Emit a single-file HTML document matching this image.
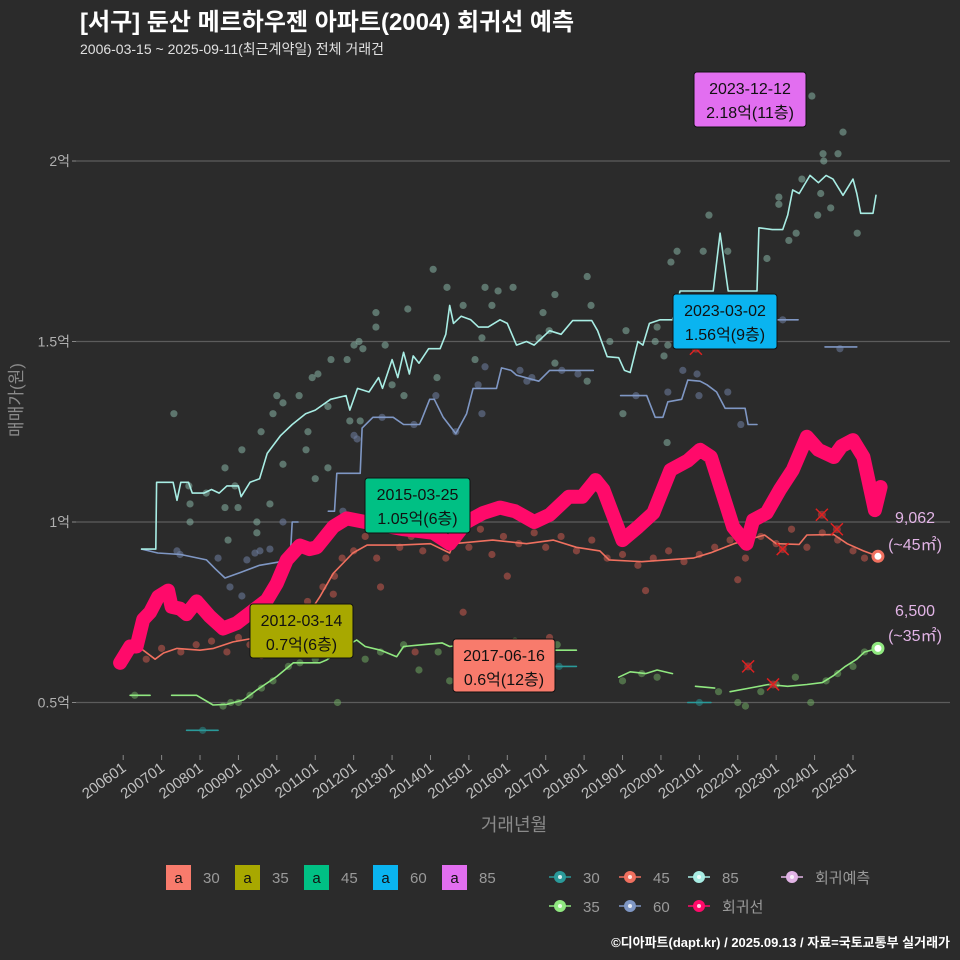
<!DOCTYPE html>
<html><head><meta charset="utf-8">
<style>
html,body{margin:0;padding:0;background:#2b2b2b;}
svg{display:block;font-family:"Liberation Sans","Noto Sans CJK KR",sans-serif;}
</style></head>
<body>
<svg id="chart" width="960" height="960" viewBox="0 0 960 960" xmlns="http://www.w3.org/2000/svg">
<rect width="960" height="960" fill="#2b2b2b"/>
<text x="80" y="30" fill="#ffffff" font-size="24" font-weight="bold">[서구] 둔산 메르하우젠 아파트(2004) 회귀선 예측</text>
<text x="80" y="54" fill="#e0e0e0" font-size="14">2006-03-15 ~ 2025-09-11(최근계약일) 전체 거래건</text>
<g id="grid"></g>
<g id="yaxis"></g>
<g id="xaxis"></g>
<text x="22" y="400" fill="#8a8a8a" font-size="17" text-anchor="middle" transform="rotate(-90 22 400)">매매가(원)</text>
<text x="514" y="831" fill="#8a8a8a" font-size="18" text-anchor="middle">거래년월</text>
<g id="dots"></g>
<g id="lines"></g>
<g id="marks"></g>
<g id="annots"></g>
<g id="legend"></g>
<text x="950" y="947" fill="#ffffff" font-size="13" font-weight="bold" text-anchor="end">©디아파트(dapt.kr) / 2025.09.13 / 자료=국토교통부 실거래가</text>
</svg>
<script>
// ---- data ----
const yTicks = [0.5, 1, 1.5, 2];
const yTickLabels = ["0.5억", "1억", "1.5억", "2억"];
const xTickYears = [2006,2007,2008,2009,2010,2011,2012,2013,2014,2015,2016,2017,2018,2019,2020,2021,2022,2023,2024,2025];
const xTickLabels = ["200601","200701","200801","200901","201001","201101","201201","201301","201401","201501","201601","201701","201801","201901","202001","202101","202201","202301","202401","202501"];

const line85 = [[2006.48,0.925],[2006.85,0.925],[2006.87,1.11],[2007.3,1.11],[2007.4,1.06],[2007.5,1.11],[2007.7,1.11],[2007.8,1.08],[2008.1,1.08],[2008.3,1.09],[2008.5,1.08],[2008.7,1.1],[2009.0,1.1],[2009.07,1.07],[2009.3,1.11],[2009.55,1.12],[2009.75,1.19],[2010.1,1.24],[2010.4,1.27],[2010.75,1.3],[2011.0,1.31],[2011.4,1.34],[2011.8,1.35],[2011.9,1.31],[2012.1,1.37],[2012.4,1.36],[2012.65,1.4],[2012.75,1.37],[2013.0,1.45],[2013.15,1.4],[2013.3,1.47],[2013.45,1.41],[2013.55,1.46],[2013.7,1.44],[2013.95,1.48],[2014.25,1.48],[2014.4,1.52],[2014.5,1.6],[2014.6,1.55],[2014.8,1.57],[2015.05,1.56],[2015.25,1.54],[2015.5,1.54],[2015.81,1.56],[2016.0,1.55],[2016.24,1.49],[2016.5,1.5],[2016.7,1.49],[2017.1,1.53],[2017.4,1.52],[2017.7,1.558],[2018.2,1.558],[2018.35,1.53],[2018.6,1.458],[2018.9,1.455],[2019.05,1.42],[2019.2,1.414],[2019.4,1.5],[2019.53,1.49],[2019.7,1.55],[2019.98,1.56],[2020.3,1.56],[2020.5,1.64],[2021.0,1.64],[2021.36,1.64],[2021.54,1.80],[2021.75,1.64],[2022.5,1.64],[2022.55,1.815],[2022.9,1.81],[2023.17,1.81],[2023.3,1.85],[2023.43,1.92],[2023.6,1.91],[2023.88,1.96],[2024.1,1.94],[2024.3,1.96],[2024.48,1.95],[2024.74,1.905],[2025.0,1.95],[2025.1,1.91],[2025.2,1.855],[2025.52,1.855],[2025.6,1.905]];

const line60a = [[2006.48,0.925],[2006.9,0.914],[2007.5,0.91],[2008.17,0.895],[2008.4,0.87],[2008.65,0.845],[2009.05,0.86],[2009.55,0.88],[2010.1,0.89],[2010.35,0.905],[2010.4,1.0],[2010.55,1.0]];
const line60b = [[2011.34,1.03],[2011.5,1.03],[2011.56,1.135],[2012.17,1.135],[2012.22,1.26],[2012.5,1.29],[2013.03,1.29],[2013.3,1.27],[2013.72,1.27],[2013.98,1.34],[2014.1,1.34],[2014.33,1.29],[2014.66,1.245],[2014.94,1.3],[2015.11,1.37],[2015.72,1.37],[2015.85,1.427],[2016.1,1.42],[2016.24,1.407],[2016.82,1.39],[2017.1,1.42],[2018.24,1.42]];
const line60c = [[2018.95,1.35],[2019.63,1.35],[2019.85,1.29],[2020.05,1.29],[2020.18,1.333],[2020.54,1.34],[2020.7,1.393],[2021.02,1.39],[2021.2,1.38],[2021.45,1.36],[2021.67,1.315],[2022.19,1.315],[2022.27,1.27],[2022.5,1.27]];
const line60d = [[2022.92,1.56],[2023.57,1.56]];
const line60e = [[2024.27,1.485],[2025.1,1.485]];

const line45 = [[2006.18,0.665],[2006.52,0.645],[2006.83,0.62],[2007.05,0.637],[2007.4,0.65],[2008.0,0.645],[2008.35,0.65],[2008.86,0.668],[2009.49,0.68],[2010.16,0.70],[2010.79,0.74],[2011.12,0.793],[2011.47,0.858],[2011.98,0.914],[2012.35,0.936],[2013.2,0.936],[2014.0,0.94],[2014.5,0.914],[2014.6,0.94],[2015.62,0.95],[2016.5,0.94],[2017.2,0.95],[2017.8,0.93],[2018.41,0.92],[2018.65,0.895],[2019.5,0.89],[2020.84,0.9],[2021.3,0.915],[2021.9,0.94],[2022.7,0.964],[2023.0,0.94],[2023.6,0.938],[2023.8,0.964],[2024.5,0.965],[2024.85,0.94],[2025.27,0.92],[2025.65,0.905]];

const line35a = [[2006.18,0.52],[2006.7,0.52]];
const line35b = [[2007.26,0.52],[2007.91,0.52],[2008.34,0.493],[2008.7,0.495],[2009.13,0.507],[2009.48,0.535],[2010.0,0.572],[2010.43,0.61],[2011.12,0.61],[2011.3,0.618],[2011.64,0.645],[2012.08,0.673],[2012.3,0.655],[2012.7,0.645],[2013.12,0.627],[2013.3,0.655],[2013.8,0.66],[2014.3,0.665],[2014.5,0.655],[2015.2,0.665],[2015.8,0.66],[2016.4,0.65],[2017.0,0.645],[2017.8,0.645]];
const line35c = [[2018.9,0.57],[2019.2,0.585],[2019.6,0.58],[2019.9,0.59],[2020.3,0.58]];
const line35d = [[2020.9,0.545],[2021.4,0.54]];
const line35e = [[2021.8,0.53],[2022.3,0.54],[2022.8,0.55],[2023.3,0.545],[2023.8,0.55],[2024.2,0.555],[2024.5,0.575],[2024.8,0.6],[2025.1,0.62],[2025.3,0.64],[2025.65,0.65]];

const line30a = [[2007.65,0.423],[2008.47,0.423]];
const line30b = [[2016.9,0.6],[2017.8,0.6]];
const line30c = [[2020.7,0.5],[2021.3,0.5]];

const regression = [[2005.92,0.61],[2006.18,0.655],[2006.35,0.655],[2006.52,0.73],[2006.7,0.75],[2006.91,0.793],[2007.17,0.81],[2007.26,0.765],[2007.48,0.76],[2007.65,0.745],[2007.91,0.78],[2008.26,0.738],[2008.6,0.705],[2008.96,0.72],[2009.3,0.748],[2009.74,0.784],[2010.0,0.83],[2010.26,0.895],[2010.6,0.935],[2010.85,0.925],[2011.04,0.93],[2011.47,0.987],[2011.82,1.01],[2012.3,1.0],[2012.8,0.99],[2013.3,0.98],[2013.7,0.975],[2014.07,0.97],[2014.5,0.94],[2014.94,1.0],[2015.37,1.025],[2015.81,1.04],[2016.2,1.03],[2016.7,1.0],[2017.1,1.02],[2017.6,1.07],[2017.95,1.07],[2018.3,1.116],[2018.5,1.09],[2019.0,0.95],[2019.4,0.986],[2019.8,1.025],[2020.25,1.144],[2020.7,1.17],[2021.02,1.2],[2021.3,1.18],[2021.88,0.986],[2022.23,0.94],[2022.4,1.005],[2022.75,1.025],[2023.1,1.09],[2023.43,1.144],[2023.8,1.236],[2024.1,1.2],[2024.5,1.18],[2024.7,1.21],[2025.0,1.227],[2025.27,1.18],[2025.57,1.033],[2025.72,1.097]];

const dots85 = [[2007.32,1.30],[2014.07,1.70],[2014.43,1.65],[2015.42,1.65],[2015.76,1.64],[2016.15,1.65],[2012.58,1.58],[2013.41,1.59],[2014.85,1.60],[2015.6,1.60],[2012.58,1.54],[2015.34,1.51],[2012.01,1.49],[2012.14,1.50],[2012.82,1.49],[2012.24,1.48],[2011.41,1.45],[2011.83,1.45],[2015.16,1.45],[2010.92,1.40],[2011.07,1.41],[2014.17,1.40],[2013.0,1.38],[2010.0,1.35],[2010.16,1.33],[2010.58,1.35],[2013.31,1.35],[2009.9,1.30],[2011.33,1.32],[2011.9,1.28],[2012.17,1.28],[2009.59,1.25],[2010.81,1.25],[2009.09,1.20],[2010.76,1.20],[2010.16,1.16],[2011.33,1.15],[2008.65,1.15],[2011.0,1.12],[2008.91,1.10],[2008.16,1.08],[2007.71,1.10],[2009.82,1.05],[2007.74,1.05],[2008.65,1.04],[2008.99,1.04],[2009.48,1.00],[2007.74,1.00],[2009.48,0.97],[2008.73,0.95],[2023.93,2.18],[2024.74,2.08],[2024.22,2.02],[2024.24,2.00],[2024.61,2.02],[2023.67,1.95],[2023.07,1.90],[2023.07,1.88],[2024.16,1.91],[2024.42,1.87],[2024.08,1.85],[2021.25,1.85],[2023.52,1.80],[2023.33,1.78],[2025.11,1.80],[2020.42,1.75],[2021.1,1.75],[2021.74,1.75],[2022.76,1.73],[2020.26,1.72],[2018.08,1.68],[2017.24,1.63],[2016.93,1.58],[2018.18,1.60],[2019.09,1.53],[2017.09,1.53],[2016.83,1.51],[2018.67,1.50],[2019.9,1.54],[2019.85,1.50],[2020.18,1.49],[2020.08,1.46],[2017.24,1.44],[2018.08,1.39],[2019.01,1.30],[2020.16,1.22]];
const dots60 = [[2007.4,0.92],[2007.48,0.91],[2008.47,0.90],[2009.22,0.895],[2009.43,0.914],[2009.56,0.92],[2009.82,0.925],[2010.16,1.0],[2011.72,1.03],[2012.01,1.24],[2012.09,1.23],[2012.74,1.29],[2013.57,1.27],[2014.14,1.35],[2014.66,1.25],[2015.24,1.38],[2015.42,1.43],[2015.34,1.30],[2016.33,1.42],[2016.51,1.39],[2016.64,1.40],[2017.42,1.42],[2017.84,1.41],[2019.35,1.35],[2020.18,1.36],[2020.57,1.42],[2020.94,1.41],[2020.99,1.35],[2021.74,1.36],[2022.08,1.27],[2023.17,1.56],[2024.66,1.48],[2008.78,0.82],[2009.09,0.795],[2009.74,0.80]];
const dots45 = [[2006.3,0.66],[2006.6,0.62],[2007.0,0.65],[2007.5,0.64],[2007.9,0.66],[2008.3,0.67],[2008.7,0.64],[2009.0,0.68],[2009.3,0.66],[2009.6,0.63],[2009.9,0.69],[2010.2,0.70],[2010.5,0.74],[2010.8,0.78],[2011.0,0.72],[2011.2,0.82],[2011.5,0.85],[2011.47,0.80],[2011.7,0.90],[2012.0,0.92],[2012.3,0.96],[2012.6,0.90],[2012.9,0.98],[2013.2,0.93],[2013.5,0.96],[2013.8,0.92],[2014.1,0.97],[2014.4,0.90],[2014.7,0.95],[2015.0,0.93],[2015.3,0.98],[2015.6,0.91],[2015.9,0.96],[2016.3,0.94],[2016.7,0.97],[2017.0,0.93],[2017.4,0.96],[2017.8,0.92],[2018.2,0.95],[2018.6,0.90],[2019.0,0.91],[2019.4,0.88],[2019.8,0.90],[2020.2,0.92],[2020.6,0.89],[2021.0,0.91],[2021.4,0.93],[2021.8,0.95],[2022.2,0.90],[2022.6,0.96],[2023.0,0.94],[2023.4,0.98],[2023.8,0.93],[2024.2,0.97],[2024.6,0.95],[2025.0,0.92],[2025.3,0.90],[2014.85,0.75],[2017.1,0.68],[2013.6,0.64],[2012.7,0.82],[2016.0,0.85],[2019.6,0.81],[2022.0,0.84]];
const dots35 = [[2006.3,0.52],[2008.6,0.49],[2008.8,0.50],[2009.0,0.50],[2009.3,0.52],[2009.6,0.54],[2009.9,0.56],[2010.3,0.60],[2010.6,0.61],[2011.0,0.62],[2011.5,0.66],[2011.8,0.68],[2011.58,0.50],[2012.3,0.62],[2012.7,0.64],[2013.3,0.66],[2013.7,0.59],[2014.2,0.64],[2014.5,0.56],[2015.2,0.66],[2015.7,0.65],[2016.2,0.67],[2016.8,0.64],[2017.3,0.66],[2019.0,0.56],[2019.5,0.58],[2019.9,0.57],[2021.5,0.53],[2022.0,0.50],[2022.2,0.49],[2022.6,0.53],[2023.0,0.55],[2023.5,0.57],[2023.9,0.50],[2024.3,0.56],[2024.6,0.58],[2025.0,0.60],[2025.3,0.64]];
const dots30 = [[2008.07,0.423],[2017.35,0.6],[2021.0,0.5]];
const redCrosses = [[2020.91,1.48],[2023.17,0.925],[2024.19,1.02],[2024.58,0.98],[2022.27,0.60],[2022.92,0.55]];
const endPoints = [[2025.65,0.905],[2025.65,0.65]];

// ---- scales ----
function xs(t){ return 123.2 + (t - 2006) * 38.41; }
function ys(v){ return 522 - (v - 1) * 361; }

const NS = "http://www.w3.org/2000/svg";
function mk(tag, attrs, parent){
  const e = document.createElementNS(NS, tag);
  for (const k in attrs) e.setAttribute(k, attrs[k]);
  parent.appendChild(e);
  return e;
}
const grid = document.getElementById('grid');
const yaxis = document.getElementById('yaxis');
const xaxis = document.getElementById('xaxis');
yTicks.forEach((v, i) => {
  const l = mk('line', {x1: 76, x2: 950, y1: ys(v), y2: ys(v), stroke: '#5c5c5c', 'stroke-width': 1.2}, grid);
  
  
  const tk = mk('line', {x1: 72, x2: 76, y1: ys(v), y2: ys(v), stroke: '#888', 'stroke-width': 1}, yaxis);
  
  
  const t = mk('text', {x: 70, y: ys(v) + 5, fill: '#b0b0b0', 'font-size': 14, 'text-anchor': 'end'}, yaxis);
  t.textContent = yTickLabels[i];
  
  
});
xTickYears.forEach((yr, i) => {
  const x = xs(yr);
  const tk = mk('line', {x1: x, x2: x, y1: 755, y2: 760, stroke: '#888', 'stroke-width': 1}, xaxis);
  
  
  const t = mk('text', {x: x + 4, y: 770, fill: '#c0c0c0', 'font-size': 15, 'text-anchor': 'end', transform: `rotate(-36 ${x + 4} 770)`}, xaxis);
  t.textContent = xTickLabels[i];
  
  
});

const dotsG = document.getElementById('dots');
function drawDots(arr, color, name){
  arr.forEach(p => {
    const c = mk('circle', {cx: xs(p[0]), cy: ys(p[1]), r: 3.6, fill: color, 'fill-opacity': 0.55}, dotsG);
    
    
  });
}
drawDots(dots85, '#86b3a4', 'dot-85');
drawDots(dots60, '#6f7fa3', 'dot-60');
drawDots(dots45, '#c9594e', 'dot-45');
drawDots(dots35, '#6fa862', 'dot-35');
drawDots(dots30, '#2a8c8c', 'dot-30');

const linesG = document.getElementById('lines');
function drawLine(arr, color, w, name){
  const d = arr.map((p, i) => (i ? 'L' : 'M') + xs(p[0]).toFixed(1) + ',' + ys(p[1]).toFixed(1)).join('');
  const path = mk('path', {d: d, fill: 'none', stroke: color, 'stroke-width': w, 'stroke-linejoin': 'round', 'stroke-linecap': 'round'}, linesG);
  
  
}
drawLine(line30a, '#2a9a9a', 1.6, 'line-30');
drawLine(line30b, '#2a9a9a', 1.6, 'line-30');
drawLine(line30c, '#2a9a9a', 1.6, 'line-30');
drawLine(line35a, '#90e880', 1.6, 'line-35');
drawLine(line35b, '#90e880', 1.6, 'line-35');
drawLine(line35c, '#90e880', 1.6, 'line-35');
drawLine(line35d, '#90e880', 1.6, 'line-35');
drawLine(line35e, '#90e880', 1.6, 'line-35');
drawLine(line60a, '#7f97c4', 1.6, 'line-60');
drawLine(line60b, '#7f97c4', 1.6, 'line-60');
drawLine(line60c, '#7f97c4', 1.6, 'line-60');
drawLine(line60d, '#7f97c4', 1.6, 'line-60');
drawLine(line60e, '#7f97c4', 1.6, 'line-60');
drawLine(line85, '#a8ede4', 1.6, 'line-85');
drawLine(line45, '#f0705f', 1.6, 'line-45');
drawLine(regression, '#ff0a6a', 14, 'regression-line');

const marksG = document.getElementById('marks');
redCrosses.forEach(p => {
  const x = xs(p[0]), y = ys(p[1]);
  const g = mk('g', {}, marksG);
  
  
  mk('circle', {cx: x, cy: y, r: 4, fill: '#a04040', 'fill-opacity': 0.7}, g);
  mk('path', {d: `M${x-6},${y-6}L${x+6},${y+6}M${x-6},${y+6}L${x+6},${y-6}`, stroke: '#e02020', 'stroke-width': 1.5}, g);
});
const endColors = ['#f0705f', '#90e880'];
endPoints.forEach((p, i) => {
  const c = mk('circle', {cx: xs(p[0]), cy: ys(p[1]), r: 5, fill: '#ffffff', stroke: endColors[i], 'stroke-width': 3}, marksG);
  
  
});

const annots = document.getElementById('annots');
const boxes = [
  {x: 694, y: 72, w: 112, h: 55, fill: '#e26ef0', l1: '2023-12-12', l2: '2.18억(11층)'},
  {x: 673, y: 294, w: 104, h: 55, fill: '#0ab4f0', l1: '2023-03-02', l2: '1.56억(9층)'},
  {x: 365, y: 478, w: 105, h: 55, fill: '#00c084', l1: '2015-03-25', l2: '1.05억(6층)'},
  {x: 250, y: 604, w: 103, h: 54, fill: '#a8a800', l1: '2012-03-14', l2: '0.7억(6층)'},
  {x: 453, y: 639, w: 102, h: 53, fill: '#f87b6c', l1: '2017-06-16', l2: '0.6억(12층)'}
];
boxes.forEach(b => {
  const g = mk('g', {}, annots);
  
  
  mk('rect', {x: b.x, y: b.y, width: b.w, height: b.h, rx: 3, fill: b.fill, stroke: '#111', 'stroke-width': 1}, g);
  const t1 = mk('text', {x: b.x + b.w / 2, y: b.y + 22, 'font-size': 16, fill: '#111', 'text-anchor': 'middle'}, g);
  t1.textContent = b.l1;
  const t2 = mk('text', {x: b.x + b.w / 2, y: b.y + 46, 'font-size': 16, fill: '#111', 'text-anchor': 'middle'}, g);
  t2.textContent = b.l2;
});
const endLabels = [['9,062', 915, 523], ['(~45㎡)', 915, 550], ['6,500', 915, 616], ['(~35㎡)', 915, 641]];
endLabels.forEach(e => {
  const t = mk('text', {x: e[1], y: e[2], fill: '#e2b4e6', 'font-size': 16, 'text-anchor': 'middle'}, annots);
  t.textContent = e[0];
  
  
});

const legend = document.getElementById('legend');
const fillKeys = [['30', '#f87b6c', 166], ['35', '#a8a800', 235], ['45', '#00c084', 304], ['60', '#0ab4f0', 373], ['85', '#e26ef0', 442]];
fillKeys.forEach(k => {
  const g = mk('g', {}, legend);
  
  
  mk('rect', {x: k[2], y: 865, width: 25, height: 25, fill: k[1]}, g);
  const a = mk('text', {x: k[2] + 12.5, y: 883, 'font-size': 15, fill: '#111', 'text-anchor': 'middle'}, g);
  a.textContent = 'a';
  const t = mk('text', {x: k[2] + 37, y: 883, 'font-size': 15, fill: '#9a9a9a'}, g);
  t.textContent = k[0];
});
const lineKeys = [['30', '#2a9a9a', 560, 877], ['45', '#f0705f', 630, 877], ['85', '#a8ede4', 699, 877], ['회귀예측', '#e2b4e6', 792, 877], ['35', '#90e880', 560, 906], ['60', '#7f97c4', 630, 906], ['회귀선', '#ff0a6a', 699, 906]];
lineKeys.forEach(k => {
  const g = mk('g', {}, legend);
  
  
  mk('line', {x1: k[2] - 11, x2: k[2] + 11, y1: k[3], y2: k[3], stroke: k[1], 'stroke-width': 1.6}, g);
  mk('circle', {cx: k[2], cy: k[3], r: 6, fill: k[1]}, g);
  mk('circle', {cx: k[2], cy: k[3], r: 2, fill: '#ffffff', 'fill-opacity': 0.8}, g);
  const t = mk('text', {x: k[2] + 23, y: k[3] + 6, 'font-size': 15, fill: '#9a9a9a'}, g);
  t.textContent = k[0];
});
</script>
</body></html>
